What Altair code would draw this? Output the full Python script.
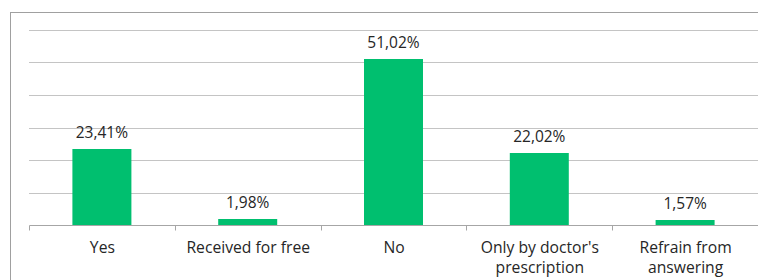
import altair as alt
import pandas as pd

categories = ["Yes", "Received for free", "No", "Only by doctor's\nprescription", "Refrain from\nanswering"]
values = [23.41, 1.98, 51.02, 22.02, 1.57]
grid_values = [10, 20, 30, 40, 50, 60]

df = pd.DataFrame({"cat": categories, "value": values})
gdf = pd.DataFrame({"g": grid_values})

W, H = 729, 195
FONT = "Open Sans"
GREEN = "#00BF6F"
TXT = "#262626"
FRAME = "#a0a0a0"
GRID = "#c4c4c4"
AXIS = "#a6a6a6"

x = alt.X("cat:N", sort=categories, title=None,
          scale=alt.Scale(paddingInner=0, paddingOuter=0),
          axis=alt.Axis(labelAngle=0, labelExpr="split(datum.label, '\\n')",
                        tickBand="extent", tickSize=5, tickColor=AXIS,
                        domainColor=AXIS, labelPadding=10,
                        labelFontSize=15.7, labelFont=FONT, labelColor=TXT,
                        labelLineHeight=20.5, labelLimit=200, grid=False))
yscale = alt.Scale(domain=[0, 60], nice=False, round=True)

frame_left = alt.Chart(df).mark_rule(color=FRAME, strokeWidth=1, xOffset=0.5).encode(
    x=alt.value(-19), y=alt.value(-18), y2=alt.value(H + 120)
)
frame_top = alt.Chart(df).mark_rule(color=FRAME, strokeWidth=1, yOffset=0.5).encode(
    y=alt.value(-18), x=alt.value(-19), x2=alt.value(W + 40)
)

grid = alt.Chart(gdf).mark_rule(color=GRID, strokeWidth=1, yOffset=0.5).encode(
    y=alt.Y("g:Q", scale=yscale, axis=None), x=alt.value(0), x2=alt.value(W + 3)
)

bars = alt.Chart(df).mark_bar(color=GREEN, width=59).encode(
    x=x, y=alt.Y("value:Q", title=None, scale=yscale, axis=None)
)

labels = alt.Chart(df).transform_calculate(
    lab="replace(format(datum.value, '.2f'), '.', ',') + '%'"
).mark_text(dy=-16, fontSize=15.5, font=FONT, color=TXT).encode(
    x=alt.X("cat:N", sort=categories), y=alt.Y("value:Q", scale=yscale, axis=None), text="lab:N"
)

chart = alt.layer(frame_left, frame_top, grid, bars, labels).properties(
    width=W, height=H,
    background="white",
    autosize=alt.AutoSizeParams(type="none"),
    padding={"left": 21, "top": 22, "right": 0, "bottom": 55},
).configure_view(strokeWidth=0, stroke="transparent")

chart.save("out.html", embed_options={"renderer": "svg", "actions": False})
